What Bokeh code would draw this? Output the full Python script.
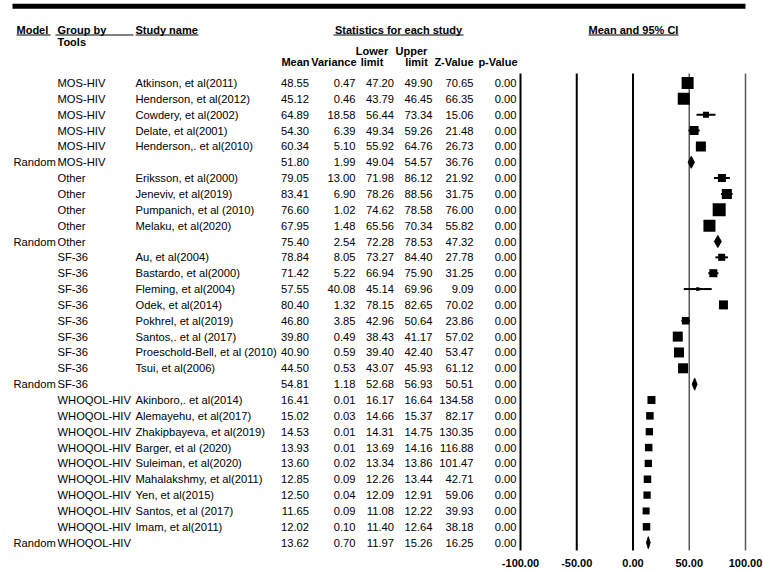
from bokeh.plotting import figure
from bokeh.models import Range1d, ColumnDataSource
from bokeh.core.properties import value
from bokeh.embed import file_html
from bokeh.resources import INLINE

# ---------------- data ----------------
model = ["", "", "", "", "", "Random",
         "", "", "", "", "Random",
         "", "", "", "", "", "", "", "", "Random",
         "", "", "", "", "", "", "", "", "", "Random"]
group = ["MOS-HIV", "MOS-HIV", "MOS-HIV", "MOS-HIV", "MOS-HIV", "MOS-HIV",
         "Other", "Other", "Other", "Other", "Other",
         "SF-36", "SF-36", "SF-36", "SF-36", "SF-36", "SF-36", "SF-36", "SF-36", "SF-36",
         "WHOQOL-HIV", "WHOQOL-HIV", "WHOQOL-HIV", "WHOQOL-HIV", "WHOQOL-HIV",
         "WHOQOL-HIV", "WHOQOL-HIV", "WHOQOL-HIV", "WHOQOL-HIV", "WHOQOL-HIV"]
study = ["Atkinson, et al(2011)", "Henderson, et al(2012)", "Cowdery, et al(2002)",
         "Delate, et al(2001)", "Henderson,. et al(2010)", "",
         "Eriksson, et al(2000)", "Jeneviv, et al(2019)", "Pumpanich, et al (2010)",
         "Melaku, et al(2020)", "",
         "Au, et al(2004)", "Bastardo, et al(2000)", "Fleming, et al(2004)",
         "Odek, et al(2014)", "Pokhrel, et al(2019)", "Santos,. et al (2017)",
         "Proeschold-Bell, et al (2010)", "Tsui, et al(2006)", "",
         "Akinboro,. et al(2014)", "Alemayehu, et al(2017)", "Zhakipbayeva, et al(2019)",
         "Barger, et al (2020)", "Suleiman, et al(2020)", "Mahalakshmy, et al(2011)",
         "Yen, et al(2015)", "Santos, et al (2017)", "Imam, et al(2011)", ""]
mean = [48.55, 45.12, 64.89, 54.30, 60.34, 51.80,
        79.05, 83.41, 76.60, 67.95, 75.40,
        78.84, 71.42, 57.55, 80.40, 46.80, 39.80, 40.90, 44.50, 54.81,
        16.41, 15.02, 14.53, 13.93, 13.60, 12.85, 12.50, 11.65, 12.02, 13.62]
variance = [0.47, 0.46, 18.58, 6.39, 5.10, 1.99,
            13.00, 6.90, 1.02, 1.48, 2.54,
            8.05, 5.22, 40.08, 1.32, 3.85, 0.49, 0.59, 0.53, 1.18,
            0.01, 0.03, 0.01, 0.01, 0.02, 0.09, 0.04, 0.09, 0.10, 0.70]
lower = [47.20, 43.79, 56.44, 49.34, 55.92, 49.04,
         71.98, 78.26, 74.62, 65.56, 72.28,
         73.27, 66.94, 45.14, 78.15, 42.96, 38.43, 39.40, 43.07, 52.68,
         16.17, 14.66, 14.31, 13.69, 13.34, 12.26, 12.09, 11.08, 11.40, 11.97]
upper = [49.90, 46.45, 73.34, 59.26, 64.76, 54.57,
         86.12, 88.56, 78.58, 70.34, 78.53,
         84.40, 75.90, 69.96, 82.65, 50.64, 41.17, 42.40, 45.93, 56.93,
         16.64, 15.37, 14.75, 14.16, 13.86, 13.44, 12.91, 12.22, 12.64, 15.26]
zval = [70.65, 66.35, 15.06, 21.48, 26.73, 36.76,
        21.92, 31.75, 76.00, 55.82, 47.32,
        27.78, 31.25, 9.09, 70.02, 23.86, 57.02, 53.47, 61.12, 50.51,
        134.58, 82.17, 130.35, 116.88, 101.47, 42.71, 59.06, 39.93, 38.18, 16.25]
pval = [0.00, 0.00, 0.00, 0.00, 0.00, 0.00,
        0.00, 0.00, 0.00, 0.00, 0.00,
        0.00, 0.00, 0.00, 0.00, 0.00, 0.00, 0.00, 0.00, 0.00,
        0.00, 0.00, 0.00, 0.00, 0.00, 0.00, 0.00, 0.00, 0.00, 0.00]
ticks = [-100, -50, 0, 50, 100]
tick_labels = ["-100.00", "-50.00", "0.00", "50.00", "100.00"]

# ---------------- styling / layout ----------------
# square side (px) for each study box (weights)
box_px = [12, 12, 6, 9, 10, 0,
          8, 10, 13, 12, 0,
          7, 8, 3.5, 9, 7.5, 10, 10, 10, 0,
          8, 7.5, 7.3, 7.5, 7.3, 7.5, 7.3, 7, 7.5, 0]

OFF = 0                                # page offset of the figure (observed)
W, H = 763, 572
PX_M100, PX_P100 = 520.0, 745.0       # pixel positions of -100 and 100
ROW0, PITCH = 82.5, 15.85              # pixel y of first row, row pitch


def ux(px):
    return -100.0 + (px - PX_M100) * 200.0 / (PX_P100 - PX_M100)


def ry(py):
    return (py - ROW0) / PITCH


FONT = value("Liberation Sans")
FS = "11.2px"
FSB = "11px"

p = figure(width=W, height=H, output_backend="svg", toolbar_location=None,
           title=None, x_axis_location=None, y_axis_location=None,
           x_range=Range1d(ux(OFF), ux(OFF + W)), y_range=Range1d(ry(OFF + H), ry(OFF)),
           min_border=0, outline_line_color=None,
           background_fill_color="white", border_fill_color="white")
p.grid.visible = False

rows = list(range(len(mean)))
is_rand = [m == "Random" for m in model]


def txt(x_px, ys, texts, align="left", bold=False, baseline="middle"):
    if not isinstance(x_px, (list, tuple)):
        x_px = [x_px] * len(texts)
    src = ColumnDataSource(dict(x=[ux(v) for v in x_px], y=list(ys), t=list(texts)))
    p.text(x="x", y="y", text="t", source=src, text_align=align,
           text_baseline=baseline, text_font=FONT,
           text_font_size=FSB if bold else FS,
           text_font_style="bold" if bold else "normal", text_color="black")


# top thick rule
p.segment(x0=[ux(12)], x1=[ux(745)], y0=[ry(5.8)], y1=[ry(5.8)],
          line_width=5, line_color="black")

# headers
HY1 = ry(29)
txt([16, 57, 135], [HY1] * 3, ["Model", "Group by", "Study name"], bold=True)
txt(57, [ry(41.5)], ["Tools"], bold=True)
txt([398, 633], [HY1, HY1], ["Statistics for each study", "Mean and 95% CI"],
    align="center", bold=True)
UL = ry(34.5)
for a, b in [(16, 50), (55, 133), (135, 198), (333, 463), (588, 678)]:
    p.segment(x0=[ux(a)], x1=[ux(b)], y0=[UL], y1=[UL], line_width=1, line_color="black")
txt([371.5, 411], [ry(50.5)] * 2, ["Lower", "Upper"], align="center", bold=True)
HY3 = ry(61)
txt(309, [HY3], ["Mean"], align="right", bold=True)
txt(356, [HY3], ["Variance"], align="right", bold=True)
txt([371.5, 416], [HY3, HY3], ["limit", "limit"], align="center", bold=True)
txt([473, 517], [HY3, HY3], ["Z-Value", "p-Value"], align="right", bold=True)

# table body
txt(13, rows, model)
txt(57, rows, group)
txt(135, rows, study)
txt(308.5, rows, ["%.2f" % v for v in mean], align="right")
txt(355, rows, ["%.2f" % v for v in variance], align="right")
txt(393.5, rows, ["%.2f" % v for v in lower], align="right")
txt(432, rows, ["%.2f" % v for v in upper], align="right")
txt(473, rows, ["%.2f" % v for v in zval], align="right")
txt(516, rows, ["%.2f" % v for v in pval], align="right")

# forest panel: vertical reference lines
line_src = ColumnDataSource(dict(
    x=ticks, y0=[-0.6] * len(ticks), y1=[29.5] * len(ticks),
    c=["black", "black", "black", "#5a5a5a", "#5a5a5a"],
    w=[2, 2, 2, 1.5, 1.5]))
p.segment(x0="x", x1="x", y0="y0", y1="y1", line_color="c", line_width="w",
          source=line_src)

# tick labels
tick_src = ColumnDataSource(dict(x=ticks, y=[ry(562)] * len(ticks), t=tick_labels))
p.text(x="x", y="y", text="t", source=tick_src, text_align="center",
       text_baseline="middle", text_font=FONT, text_font_size=FSB,
       text_font_style="bold", text_color="black")

# study CIs and boxes
st = [i for i in rows if not is_rand[i]]
ci_src = ColumnDataSource(dict(
    lo=[lower[i] for i in st], hi=[upper[i] for i in st],
    m=[mean[i] for i in st], y=[rows[i] for i in st], s=[box_px[i] for i in st]))
p.segment(x0="lo", x1="hi", y0="y", y1="y", line_width=2, line_color="black", source=ci_src)
p.scatter(x="m", y="y", size="s", marker="square", fill_color="black",
          line_color=None, source=ci_src)

# random-effects diamonds
h = 6.0 / PITCH
rd = [i for i in rows if is_rand[i]]
dxs = [[lower[i], mean[i], upper[i], mean[i]] for i in rd]
dys = [[rows[i], rows[i] - h, rows[i], rows[i] + h] for i in rd]
p.patches(xs=dxs, ys=dys, fill_color="black", line_color="black", line_width=1)

open("out.html", "w").write(file_html(p, INLINE))
